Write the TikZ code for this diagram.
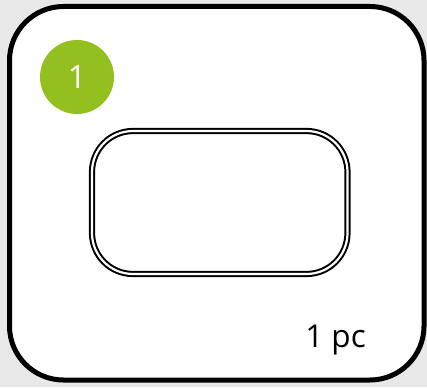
\documentclass[tikz,border=0pt]{standalone}
\usepackage{fontspec}
\setmainfont{Open Sans}
\definecolor{bggray}{HTML}{E8E8E8}
\definecolor{badgegreen}{HTML}{93C01F}
\begin{document}
\begin{tikzpicture}[x=1pt,y=-1pt,
  outerbox/.style={draw=black,fill=white,line width=5pt,rounded corners=54pt},
  innerbox/.style={draw=black,double=white,line width=2pt,double distance=2.2pt,rounded corners=41pt},
  badge/.style={circle,fill=badgegreen,minimum size=74pt,inner sep=0pt,text=white,font=\fontsize{32}{32}\selectfont},
  qty/.style={font=\fontsize{31.5}{31.5}\selectfont,anchor=base east,inner sep=0pt}]
\fill[bggray] (0,0) rectangle (427,387);
\useasboundingbox (0,0) rectangle (427,387);
\draw[outerbox] (9.5,6.5) rectangle (424,380);
\draw[innerbox] (92,131) rectangle (347.5,274);
\node[badge] (b) at (77,77) {1};
\node[qty] (q) at (366,347) {1 pc};
\end{tikzpicture}
\end{document}
